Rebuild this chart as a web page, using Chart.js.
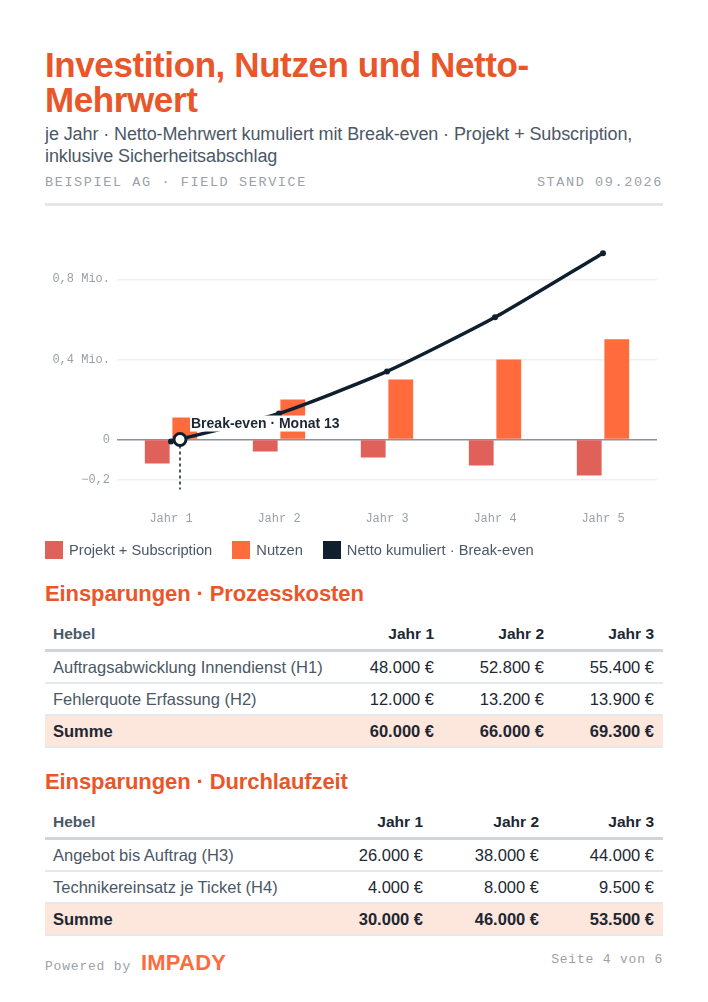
<!DOCTYPE html>
<html lang="de">
<head>
<meta charset="utf-8">
<script src="https://cdn.jsdelivr.net/npm/chart.js@4.4.1/dist/chart.umd.min.js"></script>
<style>
  html,body{margin:0;padding:0;background:#fff;}
  body{width:708px;height:1002px;position:relative;overflow:hidden;font-family:"Liberation Sans",Arial,sans-serif;color:#1c2733;}
  .abs{position:absolute;}
  #title{left:45px;top:47px;width:610px;font-size:35px;line-height:35px;font-weight:700;color:#E8562A;letter-spacing:-0.4px;margin:0;}
  #subtitle{left:45px;top:123px;width:625px;font-size:18px;line-height:22px;color:#4b5866;letter-spacing:-0.1px;}
  .mono{font-family:"Liberation Mono","DejaVu Sans Mono",monospace;}
  #meta-l{left:45px;top:175px;font-size:13.5px;letter-spacing:1.6px;color:#9aa1a8;}
  #meta-r{right:45px;top:175px;font-size:13.5px;letter-spacing:1.6px;color:#9aa1a8;}
  #rule{left:45px;top:203px;width:618px;height:3px;background:#e3e6ea;}
  #chartbox{left:45px;top:225px;width:618px;height:323px;}
  #legend{left:45px;top:541px;display:flex;gap:0;font-size:14.7px;color:#4b5866;}
  .lg{display:flex;align-items:center;margin-right:20px;}
  .sw{width:18px;height:18px;margin-right:6px;}
  h2{position:absolute;left:45px;margin:0;font-size:22px;font-weight:700;color:#E8562A;letter-spacing:-0.1px;}
  table{position:absolute;left:45px;width:618px;border-collapse:collapse;font-size:16.5px;table-layout:fixed;}
  th{font-weight:700;font-size:15.5px;color:#1c2733;height:31px;padding:0 9px 0 8px;border-bottom:3px solid #cfd5db;}
  td{height:30px;padding:0 9px 0 8px;border-bottom:2px solid #e6e9ec;color:#1c2733;}
  th:first-child{text-align:left;color:#4b5866;}
  td:first-child{text-align:left;color:#4b5866;}
  th:not(:first-child),td:not(:first-child){text-align:right;}
  tr.sum td{background:#fde6dc;font-weight:700;color:#1c2733;}
  #foot-l{left:45px;top:950px;font-size:13px;letter-spacing:0.8px;color:#9aa1a8;display:flex;align-items:baseline;}
  #foot-l b{font-family:"Liberation Sans",Arial,sans-serif;font-size:22px;color:#FF6B3D;letter-spacing:0.2px;margin-left:10px;}
  #foot-r{right:45px;top:952px;font-size:13px;letter-spacing:0.8px;color:#9aa1a8;}
</style>
</head>
<body>
<h1 id="title" class="abs">Investition, Nutzen und Netto-Mehrwert</h1>
<div id="subtitle" class="abs">je Jahr · Netto-Mehrwert kumuliert mit Break-even · Projekt + Subscription, inklusive Sicherheitsabschlag</div>
<div id="meta-l" class="abs mono">BEISPIEL AG · FIELD SERVICE</div>
<div id="meta-r" class="abs mono">STAND 09.2026</div>
<div id="rule" class="abs"></div>
<div id="chartbox" class="abs"><canvas id="c"></canvas></div>
<div id="legend" class="abs"></div>

<h2 style="top:581px">Einsparungen · Prozesskosten</h2>
<table id="t1" style="top:618px"></table>
<h2 style="top:769px">Einsparungen · Durchlaufzeit</h2>
<table id="t2" style="top:806px"></table>

<div id="foot-l" class="abs mono">Powered by<b>IMPADY</b></div>
<div id="foot-r" class="abs mono">Seite 4 von 6</div>

<script>
// ---- Chart data ----
const years = ["Jahr 1", "Jahr 2", "Jahr 3", "Jahr 4", "Jahr 5"];
const investition = [-0.12, -0.06, -0.09, -0.13, -0.18];   // Mio. €
const nutzen = [0.11, 0.20, 0.30, 0.40, 0.50];              // Mio. €
const nettoKumuliert = [-0.01, 0.13, 0.34, 0.61, 0.93];     // Mio. €
const yTickValues = [-0.2, 0, 0.4, 0.8];
const breakEvenMonth = 13;
const breakEvenLabel = "Break-even · Monat 13";
const seriesNames = ["Projekt + Subscription", "Nutzen", "Netto kumuliert · Break-even"];
const seriesColors = ["#E0605A", "#FF6B3D", "#0F1F2E"];

// ---- Table data ----
const tableHeader = ["Hebel", "Jahr 1", "Jahr 2", "Jahr 3"];
const prozessRows = [
  ["Auftragsabwicklung Innendienst (H1)", "48.000 €", "52.800 €", "55.400 €"],
  ["Fehlerquote Erfassung (H2)", "12.000 €", "13.200 €", "13.900 €"]
];
const prozessSumme = ["Summe", "60.000 €", "66.000 €", "69.300 €"];
const durchlaufRows = [
  ["Angebot bis Auftrag (H3)", "26.000 €", "38.000 €", "44.000 €"],
  ["Technikereinsatz je Ticket (H4)", "4.000 €", "8.000 €", "9.500 €"]
];
const durchlaufSumme = ["Summe", "30.000 €", "46.000 €", "53.500 €"];

function buildTable(id, rows, sum, widths) {
  const t = document.getElementById(id);
  let h = '<colgroup>' + widths.map(w => `<col style="width:${w}px">`).join('') + '</colgroup>';
  h += '<tr>' + tableHeader.map(c => `<th>${c}</th>`).join('') + '</tr>';
  rows.forEach(r => { h += '<tr>' + r.map(c => `<td>${c}</td>`).join('') + '</tr>'; });
  h += '<tr class="sum">' + sum.map(c => `<td>${c}</td>`).join('') + '</tr>';
  t.innerHTML = h;
}
buildTable('t1', prozessRows, prozessSumme, [288, 110, 110, 110]);
buildTable('t2', durchlaufRows, durchlaufSumme, [271, 116, 116, 115]);

// legend
document.getElementById('legend').innerHTML = seriesNames.map((n, i) =>
  `<div class="lg"><div class="sw" style="background:${seriesColors[i]}"></div>${n}</div>`).join('');

const monoFont = {family: '"Liberation Mono","DejaVu Sans Mono",monospace', size: 12};

const breakEvenPlugin = {
  id: 'breakEven',
  afterDatasetsDraw(chart) {
    const {ctx, chartArea, scales: {x, y}} = chart;
    const x0 = x.getPixelForValue(0), x1 = x.getPixelForValue(1);
    const bx = x0 + (x1 - x0) * (breakEvenMonth - 12) / 12;
    const by = y.getPixelForValue(0);
    ctx.save();
    ctx.strokeStyle = '#0F1F2E';
    ctx.lineWidth = 1.5;
    ctx.setLineDash([3, 3]);
    ctx.beginPath();
    ctx.moveTo(bx, by + 6);
    ctx.lineTo(bx, chartArea.bottom);
    ctx.stroke();
    ctx.setLineDash([]);
    ctx.font = '700 14px "Liberation Sans", Arial, sans-serif';
    const tw = ctx.measureText(breakEvenLabel).width;
    const lx = bx + 11, ly = by - 16;
    ctx.fillStyle = '#ffffff';
    ctx.fillRect(lx - 1, ly - 8, tw + 2, 16);
    ctx.fillStyle = '#1c2733';
    ctx.textBaseline = 'middle';
    ctx.fillText(breakEvenLabel, lx, ly + 1);
    ctx.beginPath();
    ctx.arc(bx, by, 6, 0, Math.PI * 2);
    ctx.fillStyle = '#ffffff';
    ctx.fill();
    ctx.lineWidth = 3;
    ctx.strokeStyle = '#0F1F2E';
    ctx.stroke();
    ctx.restore();
  }
};

new Chart(document.getElementById('c'), {
  data: {
    labels: years,
    datasets: [
      {type: 'line', label: seriesNames[2], data: nettoKumuliert, borderColor: seriesColors[2], backgroundColor: seriesColors[2],
       borderWidth: 3.5, tension: 0.2, pointRadius: 3, pointBackgroundColor: seriesColors[2], pointBorderWidth: 0, order: 0},
      {type: 'bar', label: seriesNames[0], data: investition, backgroundColor: seriesColors[0],
       categoryPercentage: 0.51, barPercentage: 0.9, order: 1},
      {type: 'bar', label: seriesNames[1], data: nutzen, backgroundColor: seriesColors[1],
       categoryPercentage: 0.51, barPercentage: 0.9, order: 1}
    ]
  },
  options: {
    responsive: true,
    maintainAspectRatio: false,
    animation: false,
    layout: {padding: {top: 14, right: 6, left: 0, bottom: 0}},
    plugins: {legend: {display: false}, tooltip: {enabled: false}},
    scales: {
      x: {
        grid: {display: false, drawTicks: false},
        border: {display: false},
        ticks: {font: monoFont, color: '#9aa1a8', padding: 22}
      },
      y: {
        min: -0.25, max: 1.0,
        afterBuildTicks: s => { s.ticks = yTickValues.map(v => ({value: v})); },
        afterFit: s => { s.width = 72; },
        grid: {
          color: ctx => ctx.tick && ctx.tick.value === 0 ? '#8a9299' : '#eef0f2',
          lineWidth: 1.5,
          drawTicks: false
        },
        border: {display: false},
        ticks: {
          font: monoFont, color: '#9aa1a8', padding: 7,
          callback: v => v === 0 ? '0' : (v < 0 ? '\u2212' + String(Math.abs(v)).replace('.', ',') : String(v).replace('.', ',') + ' Mio.')
        }
      }
    }
  },
  plugins: [breakEvenPlugin]
});
</script>
</body>
</html>
